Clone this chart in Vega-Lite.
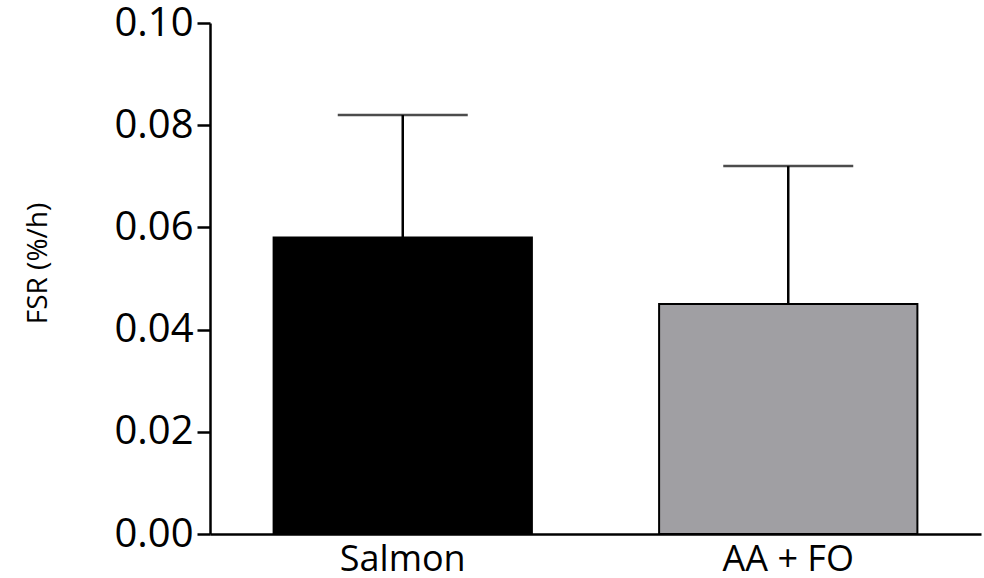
{
  "$schema": "https://vega.github.io/schema/vega-lite/v6.json",
  "autosize": "none",
  "width": 771,
  "height": 511,
  "padding": {"left": 210, "top": 23, "right": 3, "bottom": 44},
  "background": "white",
  "config": {
    "view": {"stroke": null},
    "font": "Open Sans"
  },
  "data": {
    "values": [
      {"group": "Salmon", "mean": 0.058, "upper": 0.082},
      {"group": "AA + FO", "mean": 0.045, "upper": 0.072}
    ]
  },
  "encoding": {
    "x": {
      "field": "group",
      "type": "nominal",
      "sort": ["Salmon", "AA + FO"],
      "scale": {"paddingInner": 0.33, "paddingOuter": 0.165},
      "axis": {
        "title": null,
        "labelAngle": 0,
        "labelFont": "Open Sans",
        "labelFontSize": 36,
        "labelColor": "black",
        "labelPadding": 8,
        "ticks": false,
        "domainColor": "black",
        "domainWidth": 2.5
      }
    }
  },
  "layer": [
    {
      "mark": {"type": "bar", "stroke": "black", "strokeWidth": 2},
      "encoding": {
        "y": {
          "field": "mean",
          "type": "quantitative",
          "scale": {"domain": [0, 0.1], "nice": false},
          "axis": {
            "title": "FSR (%/h)",
            "values": [0, 0.02, 0.04, 0.06, 0.08, 0.1],
            "format": ".2f",
            "grid": false,
            "labelFont": "Open Sans",
            "labelFontSize": 40,
            "labelColor": "black",
            "labelPadding": 4,
            "tickSize": 13,
            "tickWidth": 2.5,
            "tickColor": "black",
            "domainColor": "black",
            "domainWidth": 2.5,
            "titleFont": "Open Sans",
            "titleFontSize": 28,
            "titleFontWeight": "normal",
            "titleColor": "black",
            "titleX": -172,
            "titleY": 240,
            "titleBaseline": "middle",
            "titleAlign": "center"
          }
        },
        "color": {
          "field": "group",
          "type": "nominal",
          "scale": {"domain": ["Salmon", "AA + FO"], "range": ["#000000", "#a09fa3"]},
          "legend": null
        }
      }
    },
    {
      "mark": {"type": "rule", "color": "black", "strokeWidth": 2.5},
      "encoding": {
        "y": {"field": "mean", "type": "quantitative"},
        "y2": {"field": "upper"}
      }
    },
    {
      "mark": {"type": "tick", "color": "black", "size": 130, "thickness": 2.5},
      "encoding": {
        "y": {"field": "upper", "type": "quantitative"}
      }
    }
  ]
}
